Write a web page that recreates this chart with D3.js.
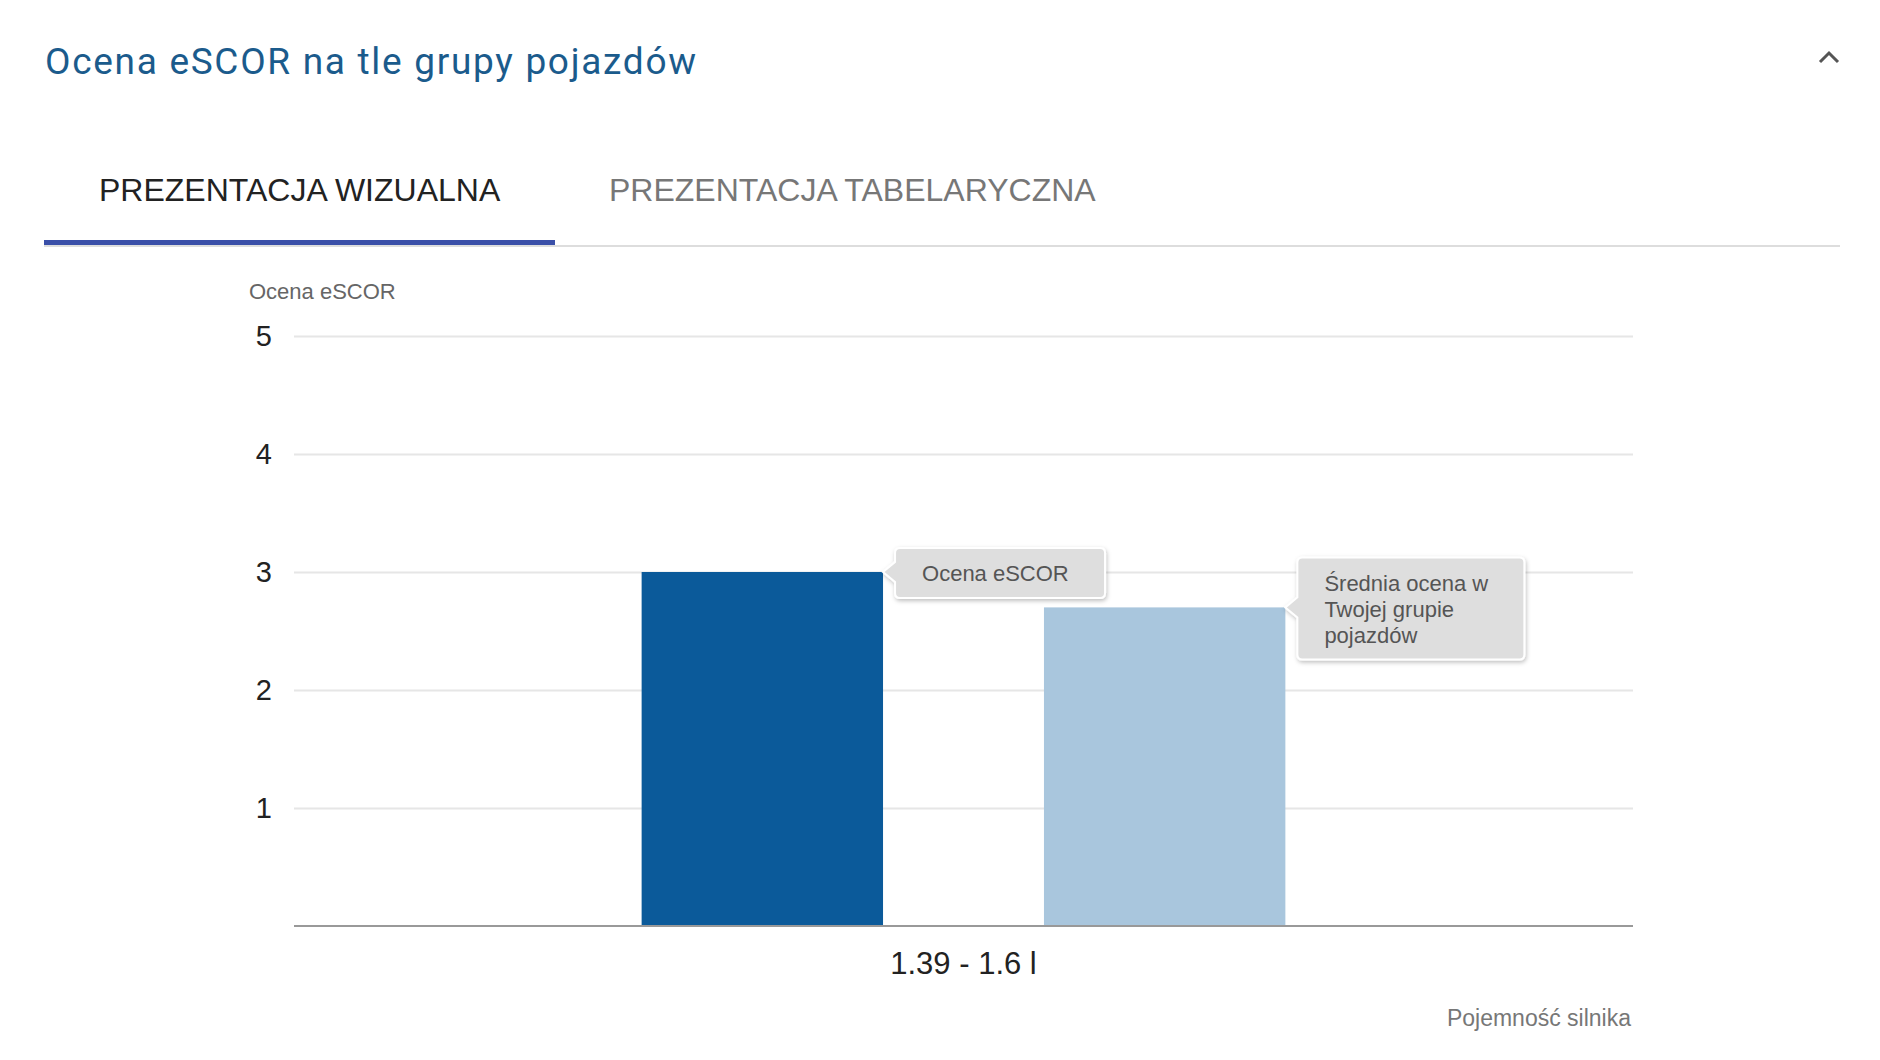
<!DOCTYPE html>
<html><head><meta charset="utf-8">
<script src="https://cdn.jsdelivr.net/npm/d3@7"></script>
<style>body{margin:0;background:#fff;}svg{display:block;font-family:Arial,"Liberation Sans",sans-serif;}</style>
</head><body><svg id="c" width="1880" height="1060"></svg>
<script>
const categories = ["1.39 - 1.6 l"];
const seriesNames = ["Ocena eSCOR", "Średnia ocena w Twojej grupie pojazdów"];
const seriesValues = [3, 2.7];
const seriesColors = ["#0b5a9a", "#a9c6dd"];
const yTicks = [1, 2, 3, 4, 5];
const tooltipLines = [["Ocena eSCOR"], ["Średnia ocena w", "Twojej grupie", "pojazdów"]];

(function(){
const svg = d3.select("#c");
svg.append("text").attr("x",45).attr("y",74).attr("fill","#1b5b8c")
  .style("font-family","Roboto, sans-serif").style("font-size","37px").style("letter-spacing","1.7px")
  .text("Ocena eSCOR na tle grupy pojazdów");
svg.append("path").attr("d","M1820,62 L1829,53 L1838,62").attr("fill","none").attr("stroke","#555").attr("stroke-width",3);
svg.append("text").attr("x",99).attr("y",201).attr("fill","#222").style("font-size","32px").text("PREZENTACJA WIZUALNA");
svg.append("text").attr("x",609).attr("y",201).attr("fill","#777").style("font-size","32px").text("PREZENTACJA TABELARYCZNA");
svg.append("line").attr("x1",44).attr("x2",1840).attr("y1",246).attr("y2",246).attr("stroke","#ddd").attr("stroke-width",2);
svg.append("rect").attr("x",44).attr("y",240).attr("width",511).attr("height",5).attr("fill","#3a4fa8");

const pL=294,pR=1633,pT=336,pB=926;
const y = d3.scaleLinear().domain([0,5]).range([pB,pT]);
const x0 = d3.scaleBand().domain(categories).range([pL,pR]).paddingInner(0).paddingOuter(0.54);
const x1 = d3.scaleBand().domain(seriesNames).range([0,x0.bandwidth()]).paddingInner(0.4);

svg.append("text").attr("x",249).attr("y",299).attr("fill","#666").style("font-size","22px").text("Ocena eSCOR");
const ya = svg.append("g").attr("transform",`translate(${pL},0)`)
  .call(d3.axisLeft(y).tickValues(yTicks).tickSize(-(pR-pL)).tickFormat(d3.format("d")));
ya.select(".domain").remove();
ya.selectAll(".tick line").attr("stroke","#e6e6e6").attr("stroke-width",2);
ya.selectAll(".tick text").attr("x",-22).attr("fill","#222").style("font-size","29px").style("font-family","Arial, sans-serif");

categories.forEach(c=>{
  seriesNames.forEach((s,i)=>{
    svg.append("rect").attr("x",x0(c)+x1(s)).attr("y",y(seriesValues[i]))
      .attr("width",x1.bandwidth()).attr("height",pB-y(seriesValues[i])).attr("fill",seriesColors[i]);
  });
});
svg.append("line").attr("x1",pL).attr("x2",pR).attr("y1",pB).attr("y2",pB).attr("stroke","#999").attr("stroke-width",2);
const xa = svg.append("g").attr("transform",`translate(0,${pB})`).call(d3.axisBottom(x0).tickSize(0));
xa.select(".domain").remove();
xa.selectAll("text").attr("dy",0).attr("y",48).attr("fill","#222").style("font-size","31px").style("font-family","Arial, sans-serif");
svg.append("text").attr("x",1631).attr("y",1026).attr("text-anchor","end").attr("fill","#777").style("font-size","23px").text("Pojemność silnika");

const defs = svg.append("defs");
const f = defs.append("filter").attr("id","sh").attr("x","-10%").attr("y","-10%").attr("width","130%").attr("height","140%");
f.append("feDropShadow").attr("dx",1).attr("dy",2).attr("stdDeviation",2).attr("flood-color","#000").attr("flood-opacity",0.25);
const tipW=[210,227], tipH=[50,102], tipOff=[24,50];
categories.forEach(c=>{
  seriesNames.forEach((s,i)=>{
    const bx = x0(c)+x1(s)+x1.bandwidth();
    const by = y(seriesValues[i]);
    const tx = bx+12, ty = by-tipOff[i];
    const w=tipW[i], h=tipH[i], r=5, ay=by-ty;
    const p = `M${tx+r},${ty} H${tx+w-r} Q${tx+w},${ty} ${tx+w},${ty+r} V${ty+h-r} Q${tx+w},${ty+h} ${tx+w-r},${ty+h} H${tx+r} Q${tx},${ty+h} ${tx},${ty+h-r} V${ay+ty+10} L${bx},${by} L${tx},${ay+ty-10} V${ty+r} Q${tx},${ty} ${tx+r},${ty} Z`;
    svg.append("path").attr("d",p).attr("fill","#dedede").attr("stroke","#fff").attr("stroke-width",2).attr("filter","url(#sh)");
    tooltipLines[i].forEach((t,k)=>{
      svg.append("text").attr("x",tx+27).attr("y",ty+(i===0?33:34+k*26)).attr("fill","#555")
        .style("font-size","22px").text(t);
    });
  });
});
})();
</script></body></html>
